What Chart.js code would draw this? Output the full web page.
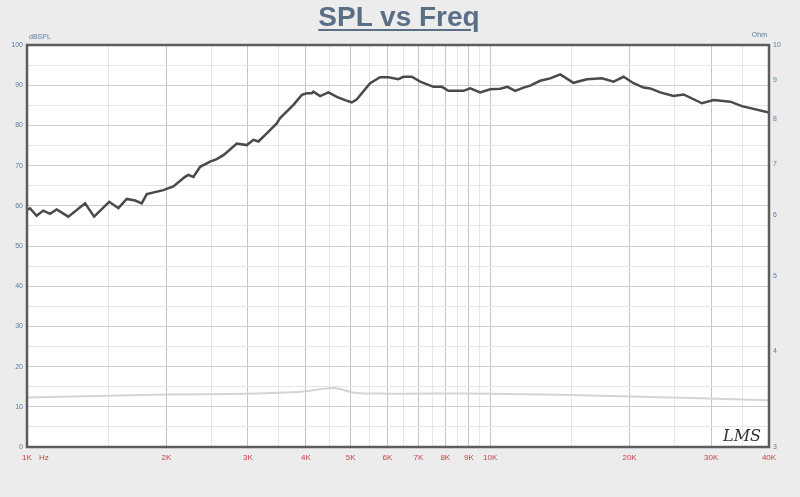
<!DOCTYPE html>
<html>
<head>
<meta charset="utf-8">
<script src="https://cdn.jsdelivr.net/npm/chart.js@4"></script>
<style>
  html, body { margin: 0; padding: 0; background: #ececec; }
  #wrap { position: relative; width: 800px; height: 497px; }
  #title {
    position: absolute; left: 0; top: 0; width: 798px; text-align: center;
    font: bold 28px "Liberation Sans", Arial, sans-serif; color: #5a6f86;
    text-decoration: underline; text-underline-offset: 3px; line-height: 34px;
  }
</style>
</head>
<body>
<div id="wrap">
  <canvas id="spl_chart" width="800" height="497"></canvas>
  <div id="title">SPL vs Freq</div>
</div>
<script>
// SPL 곡선 (Hz, dB)
var freqHz = [1000, 1015, 1049, 1084, 1121, 1159, 1228, 1335, 1396, 1505,
    1575, 1642, 1712, 1769, 1814, 1970, 2070, 2194, 2230, 2287,
    2365, 2485, 2569, 2655, 2838, 2982, 3083, 3160, 3294, 3461,
    3519, 3761, 3921, 4019, 4120, 4153, 4294, 4475, 4666, 4862,
    5027, 5154, 5506, 5786, 6030, 6338, 6498, 6775, 7061, 7543,
    7865, 8127, 8757, 9052, 9515, 10000, 10510, 10900, 11324, 11800,
    12200, 12823, 13480, 14170, 15130, 16180, 17430, 18470, 19410, 20400,
    21440, 22160, 23290, 24880, 26160, 28660, 30370, 33000, 34960, 40000];
var splDb = [59.0, 59.4, 57.5, 58.8, 58.0, 59.1, 57.3, 60.6, 57.3, 61.0,
    59.4, 61.7, 61.3, 60.6, 62.9, 63.9, 64.8, 67.2, 67.7, 67.2,
    69.7, 71.0, 71.6, 72.6, 75.5, 75.1, 76.4, 76.0, 78.0, 80.5,
    81.8, 85.1, 87.6, 88.0, 88.0, 88.4, 87.3, 88.2, 87.1, 86.3,
    85.7, 86.5, 90.5, 92.0, 92.0, 91.5, 92.1, 92.1, 90.9, 89.6,
    89.6, 88.6, 88.6, 89.2, 88.2, 89.0, 89.1, 89.6, 88.6, 89.4,
    89.9, 91.1, 91.7, 92.7, 90.6, 91.5, 91.7, 90.9, 92.1, 90.5,
    89.4, 89.2, 88.2, 87.3, 87.7, 85.5, 86.3, 85.9, 84.8, 83.2];

// 임피던스 곡선 (Hz, Ohm)
var zFreqHz = [1000, 2000, 3000, 3900, 4600, 5100, 6000, 10000, 20000, 40000];
var zOhm = [3.48, 3.51, 3.52, 3.54, 3.58, 3.53, 3.52, 3.52, 3.49, 3.45];

// 축 눈금
var xGridValues = [1000, 1500, 2000, 2500, 3000, 3500, 4000, 4500, 5000, 5500,
    6000, 6500, 7000, 7500, 8000, 8500, 9000, 9500, 10000,
    15000, 20000, 25000, 30000, 35000, 40000];
var xLabelValues = [1000, 2000, 3000, 4000, 5000, 6000, 7000, 8000, 9000, 10000, 20000, 30000, 40000];
var xLabelText = ['1K', '2K', '3K', '4K', '5K', '6K', '7K', '8K', '9K', '10K', '20K', '30K', '40K'];
var ohmTicks = [3, 4, 5, 6, 7, 8, 9, 10];

function isMajorX(v) {
    return xLabelValues.indexOf(v) >= 0;
}

// 배경, 테두리, 글자
var framePlugin = {
    id: 'frame',
    beforeDraw: function (chart) {
        var ctx = chart.ctx, a = chart.chartArea;
        ctx.save();
        ctx.fillStyle = '#ececec';
        ctx.fillRect(0, 0, chart.width, chart.height);
        ctx.fillStyle = '#ffffff';
        ctx.fillRect(a.left, a.top, a.right - a.left, a.bottom - a.top);
        ctx.restore();
    },
    afterDraw: function (chart) {
        var ctx = chart.ctx, a = chart.chartArea;
        ctx.save();
        ctx.strokeStyle = '#5c5c5c';
        ctx.lineWidth = 2.5;
        ctx.strokeRect(a.left, a.top, a.right - a.left, a.bottom - a.top);
        ctx.font = '7px "Liberation Sans", Arial, sans-serif';
        ctx.fillStyle = '#5b7ba3';
        ctx.textAlign = 'left';
        ctx.fillText('dBSPL', a.left + 2, a.top - 6);
        ctx.textAlign = 'right';
        ctx.fillText('Ohm', a.right - 2, a.top - 8);
        // 단위 Hz (첫 눈금 옆)
        ctx.font = '8px "Liberation Sans", Arial, sans-serif';
        ctx.fillStyle = '#c8414b';
        ctx.textAlign = 'left';
        ctx.textBaseline = 'middle';
        ctx.fillText('Hz', a.left + 12, a.bottom + 11);
        ctx.textBaseline = 'alphabetic';
        ctx.font = 'italic 16px "DejaVu Serif", serif';
        ctx.fillStyle = '#333333';
        ctx.textAlign = 'right';
        ctx.fillText('LMS', a.right - 8, a.bottom - 6);
        ctx.restore();
    }
};

var splChart = new Chart(document.getElementById('spl_chart'), {
    type: 'line',
    data: {
        datasets: [{
            label: 'SPL',
            data: freqHz.map(function (f, i) { return { x: f, y: splDb[i] }; }),
            borderColor: '#4a4a4a',
            borderWidth: 2.5,
            pointRadius: 0,
            tension: 0,
            yAxisID: 'y'
        }, {
            label: 'Impedance',
            data: zFreqHz.map(function (f, i) { return { x: f, y: zOhm[i] }; }),
            borderColor: '#d4d4d4',
            borderWidth: 2,
            pointRadius: 0,
            tension: 0.3,
            yAxisID: 'y2'
        }]
    },
    options: {
        responsive: false,
        animation: false,
        layout: { padding: { top: 45, left: 0, right: 0, bottom: 0 } },
        plugins: { legend: { display: false }, tooltip: { enabled: false } },
        scales: {
            x: {
                type: 'logarithmic',
                position: 'bottom',
                min: 1000,
                max: 40000,
                afterBuildTicks: function (scale) {
                    scale.ticks = xGridValues.map(function (v) { return { value: v }; });
                },
                afterFit: function (scale) { scale.height = 50; },
                ticks: {
                    autoSkip: false,
                    maxRotation: 0,
                    padding: 6,
                    color: '#c8414b',
                    font: { size: 8, family: '"Liberation Sans", Arial, sans-serif' },
                    callback: function (value) {
                        var k = xLabelValues.indexOf(value);
                        return k >= 0 ? xLabelText[k] : '';
                    }
                },
                grid: {
                    drawTicks: false,
                    color: function (c) {
                        return isMajorX(c.tick.value) ? '#c4c4c4' : '#e6e6e6';
                    }
                },
                border: { display: false }
            },
            y: {
                type: 'linear',
                position: 'left',
                min: 0,
                max: 100,
                afterFit: function (scale) { scale.width = 27; },
                ticks: {
                    stepSize: 5,
                    padding: 4,
                    color: '#5b7ba3',
                    font: { size: 7, family: '"Liberation Sans", Arial, sans-serif' },
                    callback: function (value) { return value % 10 === 0 ? value : ''; }
                },
                grid: {
                    drawTicks: false,
                    color: function (c) {
                        return c.tick.value % 10 === 0 ? '#cfcfcf' : '#e6e6e6';
                    }
                },
                border: { display: false }
            },
            y2: {
                type: 'logarithmic',
                position: 'right',
                min: 3,
                max: 10,
                afterBuildTicks: function (scale) {
                    scale.ticks = ohmTicks.map(function (v) { return { value: v }; });
                },
                afterFit: function (scale) { scale.width = 31; },
                ticks: {
                    padding: 4,
                    color: '#5b7ba3',
                    font: { size: 7, family: '"Liberation Sans", Arial, sans-serif' },
                    callback: function (value) { return String(value); }
                },
                grid: { display: false, drawTicks: false },
                border: { display: false }
            }
        }
    },
    plugins: [framePlugin]
});
</script>
</body>
</html>
